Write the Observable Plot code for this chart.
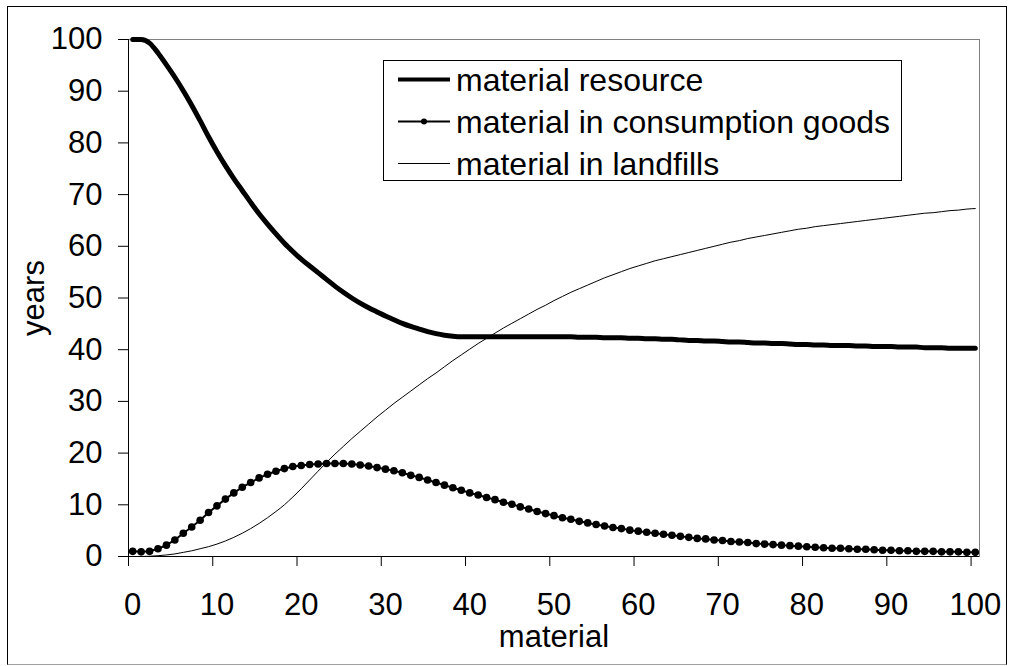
<!DOCTYPE html>
<html>
<head>
<meta charset="utf-8">
<script src="https://cdn.jsdelivr.net/npm/d3@7"></script>
<script src="https://cdn.jsdelivr.net/npm/@observablehq/plot@0.6"></script>
<style>
  html, body { margin: 0; padding: 0; background: #fff; }
  #wrap { position: relative; width: 1009px; height: 666px; overflow: hidden; }
  #border { position: absolute; left: 7px; top: 6px; width: 998px; height: 657px;
            border: 1px solid #000; border-bottom-color: #a0a0a0; pointer-events: none; }
</style>
</head>
<body>
<div id="wrap"><div id="border"></div></div>
<script>
const categories = d3.range(0, 101);
const xTicks = [0, 10, 20, 30, 40, 50, 60, 70, 80, 90, 100];
const yTicks = [0, 10, 20, 30, 40, 50, 60, 70, 80, 90, 100];
const seriesNames = ["material resource", "material in consumption goods", "material in landfills"];

const resource = [
  100, 100, 99.3, 97.4, 95.1, 92.7, 90.1, 87.3, 84.3, 81.2,
  78.3, 75.6, 73.1, 70.8, 68.5, 66.3, 64.3, 62.4, 60.6, 59.0,
  57.5, 56.2, 54.9, 53.6, 52.3, 51.1, 50.0, 49.0, 48.1, 47.3,
  46.5, 45.8, 45.1, 44.5, 44.0, 43.5, 43.1, 42.8, 42.6, 42.5,
  42.5, 42.5, 42.5, 42.5, 42.5, 42.5, 42.5, 42.5, 42.5, 42.5,
  42.5, 42.5, 42.5, 42.4, 42.4, 42.4, 42.3, 42.3, 42.3, 42.2,
  42.2, 42.1, 42.1, 42.0, 42.0, 41.9, 41.8, 41.8, 41.7, 41.7,
  41.6, 41.5, 41.5, 41.4, 41.3, 41.3, 41.2, 41.2, 41.1, 41.0,
  41.0, 40.9, 40.9, 40.8, 40.8, 40.8, 40.7, 40.7, 40.6, 40.6,
  40.6, 40.5, 40.5, 40.5, 40.4, 40.4, 40.4, 40.3, 40.3, 40.3,
  40.3
];
const consumption = [
  1.0, 0.9, 1.0, 1.5, 2.2, 3.2, 4.5, 5.7, 7.0, 8.5,
  9.8, 11.1, 12.3, 13.4, 14.3, 15.2, 15.9, 16.5, 17.0, 17.4,
  17.6, 17.8, 17.9, 18.0, 18.0, 18.0, 17.9, 17.7, 17.5, 17.2,
  16.9, 16.6, 16.2, 15.7, 15.3, 14.8, 14.3, 13.8, 13.3, 12.8,
  12.3, 11.9, 11.4, 11.0, 10.5, 10.1, 9.6, 9.2, 8.7, 8.3,
  7.9, 7.5, 7.2, 6.8, 6.5, 6.2, 5.9, 5.6, 5.4, 5.1,
  4.9, 4.7, 4.5, 4.3, 4.1, 3.9, 3.7, 3.5, 3.4, 3.2,
  3.1, 2.9, 2.8, 2.7, 2.5, 2.4, 2.3, 2.2, 2.1, 2.0,
  1.9, 1.8, 1.7, 1.6, 1.6, 1.5, 1.4, 1.4, 1.3, 1.2,
  1.2, 1.1, 1.1, 1.0, 1.0, 1.0, 0.9, 0.9, 0.9, 0.8,
  0.8
];
const landfills = [
  0, 0, 0.05, 0.15, 0.3, 0.5, 0.8, 1.1, 1.5, 1.9,
  2.4, 3.0, 3.7, 4.5, 5.4, 6.4, 7.5, 8.7, 10.0, 11.5,
  13.1, 14.8, 16.5, 18.2, 19.8, 21.3, 22.8, 24.2, 25.6, 27.0,
  28.3, 29.6, 30.8, 32.0, 33.2, 34.4, 35.5, 36.7, 37.9, 39.0,
  40.1, 41.2, 42.2, 43.2, 44.2, 45.1, 46.0, 46.9, 47.8, 48.6,
  49.5, 50.3, 51.1, 51.8, 52.5, 53.2, 53.9, 54.5, 55.1, 55.7,
  56.2, 56.7, 57.2, 57.6, 58.0, 58.4, 58.8, 59.2, 59.6, 60.0,
  60.4, 60.8, 61.1, 61.5, 61.8, 62.1, 62.4, 62.7, 63.0, 63.3,
  63.5, 63.8, 64.0, 64.2, 64.4, 64.6, 64.8, 65.0, 65.2, 65.4,
  65.6, 65.8, 66.0, 66.2, 66.4, 66.5, 66.7, 66.9, 67.0, 67.2,
  67.3
];

const rows = categories.map((c, i) => ({x: c, resource: resource[i], consumption: consumption[i], landfills: landfills[i]}));

const FONT = "'Liberation Sans', Arial, Helvetica, sans-serif";

const svg = Plot.plot({
  width: 1009,
  height: 666,
  marginLeft: 128,
  marginRight: 30,
  marginTop: 39,
  marginBottom: 110,
  style: {fontFamily: FONT, fontSize: "31px", color: "#000", background: "transparent"},
  x: {domain: [-0.5, 100.5]},
  y: {domain: [0, 100]},
  marks: [
    Plot.frame({stroke: "#808080"}),
    Plot.axisY({ticks: yTicks, tickSize: 10, tickPadding: 16, label: null, fontSize: 31}),
    Plot.axisX({ticks: xTicks.map(v => v - 0.5), tickSize: 10, tickFormat: () => "", label: null}),
    Plot.axisX({ticks: xTicks, tickSize: 0, tickPadding: 36, label: null, fontSize: 31}),
    Plot.ruleY([0], {stroke: "#000"}),
    Plot.ruleX([-0.5], {stroke: "#000"}),
    Plot.line(rows, {x: "x", y: "resource", stroke: "#000", strokeWidth: 5, strokeLinejoin: "round", strokeLinecap: "round", curve: "monotone-x"}),
    Plot.line(rows, {x: "x", y: "consumption", stroke: "#000", strokeWidth: 2}),
    Plot.dot(rows, {x: "x", y: "consumption", r: 3.8, fill: "#000", stroke: "none"}),
    Plot.line(rows, {x: "x", y: "landfills", stroke: "#000", strokeWidth: 1, curve: "monotone-x"})
  ]
});

document.getElementById("wrap").prepend(svg);

const s = d3.select(svg);
// axis titles
s.append("text")
  .attr("transform", "translate(44,298) rotate(-90)")
  .attr("text-anchor", "middle")
  .attr("font-family", FONT).attr("font-size", 31).attr("fill", "#000")
  .text("years");
s.append("text")
  .attr("x", 554).attr("y", 647)
  .attr("text-anchor", "middle")
  .attr("font-family", FONT).attr("font-size", 31).attr("fill", "#000")
  .text("material");

// legend
const lg = s.append("g").attr("text-anchor", "start");
lg.append("rect").attr("x", 383.5).attr("y", 60.5).attr("width", 518).attr("height", 120)
  .attr("fill", "#fff").attr("stroke", "#000");
const rowY = [79.5, 121.5, 163.5];
const widths = [4, 2, 1];
seriesNames.forEach((name, k) => {
  lg.append("line").attr("x1", 398).attr("x2", 450).attr("y1", rowY[k]).attr("y2", rowY[k])
    .attr("stroke", "#000").attr("stroke-width", widths[k]);
  if (k === 1) lg.append("circle").attr("cx", 424).attr("cy", rowY[k]).attr("r", 3).attr("fill", "#000");
  lg.append("text").attr("x", 456).attr("y", rowY[k]).attr("dy", "0.36em")
    .attr("text-anchor", "start")
    .attr("font-family", FONT).attr("font-size", 32).attr("fill", "#000")
    .text(name);
});
</script>
</body>
</html>
